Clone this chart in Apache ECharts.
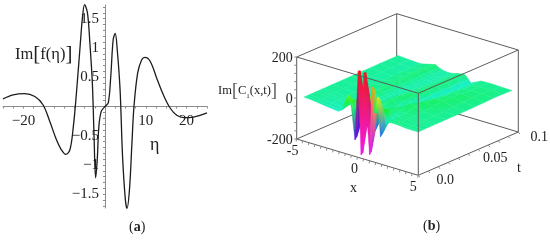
<!DOCTYPE html>
<html>
<head>
<meta charset="utf-8">
<script src="https://cdn.jsdelivr.net/npm/echarts@6/dist/echarts.min.js"></script>
<style>html,body{margin:0;padding:0;background:#fff}#c{width:550px;height:240px}</style>
</head>
<body>
<div id="c"></div>
<script>
// ---------- panel (a) data ----------
const curveEta = [-25,-22.5,-19.7,-17.2,-15.2,-13.5,-11.9,-10.7,-9.6,-8.6,-7.8,-7,-6.1,-5.5,-5,-4.3,-3.7,-3.1,-2.7,-2.3,-1.9,-1.5,-0.9,0,0.8,1.4,2,2.5,3,3.7,4.3,5,5.4,6,6.6,7.1,8,9,9.8,11.1,12.7,14.3,16,17.6,19.3,21.7,25];
const curveIm = [0.13,0.2,0.22,0.17,0.03,-0.26,-0.57,-0.74,-0.82,-0.74,-0.37,0.23,1.03,1.54,1.74,1.6,1.08,0.4,-0.46,-1.22,-0.91,-0.34,-0.08,0,0.06,0.5,1.14,1.25,0.97,0.28,-0.85,-1.6,-1.74,-1.42,-0.63,0,0.57,0.8,0.84,0.77,0.48,0.2,-0.03,-0.15,-0.19,-0.18,-0.11];
const etaLabelTicks = [-20,10,20];
const imLabelTicks = [-1.5,-1,-0.5,0.5,1,1.5];
const etaMinorTicks = [-25,-22.5,-20,-17.5,-15,-12.5,-10,-7.5,-5,-2.5,2.5,5,7.5,10,12.5,15,17.5,20,22.5,25];
const imMinorTicks = [-1.7,-1.6,-1.5,-1.4,-1.3,-1.2,-1.1,-1,-0.9,-0.8,-0.7,-0.6,-0.5,-0.4,-0.3,-0.2,-0.1,0.1,0.2,0.3,0.4,0.5,0.6,0.7,0.8,0.9,1,1.1,1.2,1.3,1.4,1.5,1.6,1.7];

// ---------- panel (b) data: Im C1(x,t), rows by t, columns by x ----------
const surfX = [-5,-4,-3,-2,-1.7,-1.4,-1.1,-0.85,-0.53,-0.25,0,0.25,0.75,0.95,1.2,1.45,1.7,2.3,3,4,5];
const surfT = [0,0.002,0.006,0.012,0.016,0.02,0.03,0.04,0.05,0.06,0.07,0.08,0.09,0.1];
const surfZ0   = [0,-5,-12,-18,-7,37,75,20,-133,207,-197,207,-184,151,30,111,-80,4,5,0,0];
const surfZ002 = [0,-4,-10,-16,-5,30,60,15,-120,205,-190,205,-170,140,25,100,-70,3,5,0,0];
const surfZ006 = [0,-3,-8,-12,0,22,40,10,-70,90,-80,85,-80,60,20,40,-35,3,4,1,0];
const surfZ012 = [0,-3,-6,-8,4,20,25,5,-30,35,-30,30,-35,25,15,20,-18,2,4,1,0];
const surfZ016 = [0,-2,-5,-5,8,18,15,0,-12,12,-12,10,-15,10,12,10,-10,3,3,1,0];
const surfZ020 = [0,-2,-4,-3,10,14,6,-2,-6,4,-4,6,-6,8,12,14,2,6,3,1,0];
const surfZ030 = [0,-2,-3,0,10,6,-2,-6,-6,2,12,14,-6,-14,-8,6,18,16,4,1,0];
const surfZ040 = [0,-2,-3,3,10,3,-4,-8,-6,0,6,14,6,-10,-16,-6,4,18,10,2,0];
const surfZ050 = [0,-3,-3,6,10,2,-6,-8,-8,-4,2,8,12,2,-10,-14,-4,10,16,4,0];
const surfZ060 = [0,-3,-4,7,10,0,-6,-8,-8,-6,0,4,13,8,-8,-18,-10,4,14,8,0];
const surfZ070 = [0,-3,-5,8,10,0,-5,-8,-8,-6,-2,2,10,10,-4,-20,-14,2,8,10,1];
const surfZ080 = [0,-4,-5,8,11,1,-5,-7,-8,-6,-3,1,9,9,-6,-22,-14,0,5,8,3];
const surfZ090 = [0,-4,-6,8,12,1,-4,-6,-8,-6,-3,2,8,7,-8,-24,-15,0,3,3,2];
const surfZ100 = [0,-4,-6,8,12,2,-4,-6,-8,-6,-3,2,8,4,-12,-25,-16,0,2,1,0];
const surfRows = [surfZ0,surfZ002,surfZ006,surfZ012,surfZ016,surfZ020,surfZ030,surfZ040,surfZ050,surfZ060,surfZ070,surfZ080,surfZ090,surfZ100];

const zTicks = [200,0,-200];
const xTicks = [-5,0,5];
const tTicks = [0,0.05,0.1];
const tTickText = ['0.0','0.05','0.1'];
const xMinor = [-5,-4.5,-4,-3.5,-3,-2.5,-2,-1.5,-1,-0.5,0,0.5,1,1.5,2,2.5,3,3.5,4,4.5,5];
const tMinor = [0,0.01,0.02,0.03,0.04,0.05,0.06,0.07,0.08,0.09,0.1];
const zMinor = [-200,-160,-120,-80,-40,0,40,80,120,160,200];

// ---------- view of the 3-D box ----------
const boxView = {ox:296.7, oy:98, xv:[12.16,3.63], tv:[1000,-433], zv:[0,-0.205]};
const surfView = {ox:304, oy:97, xv:[11.4,3.5], tv:[940,-415], zv:[0,-0.205]};
function proj(v,x,t,z){
  return [v.ox + (x+5)*v.xv[0] + t*v.tv[0] + z*v.zv[0],
          v.oy + (x+5)*v.xv[1] + t*v.tv[1] + z*v.zv[1]];
}
function hue(z){ const h = Math.max(0,Math.min(300,155-0.775*z)); return 'hsl('+h.toFixed(0)+',88%,52%)'; }

const quadData = [];
for(let r=surfT.length-2;r>=0;r--) for(let c=0;c<surfX.length-1;c++) quadData.push([r,c]);

function quadItem(p,api){
  const r=api.value(0), c=api.value(1);
  const idx=[[r,c],[r,c+1],[r+1,c+1],[r+1,c]];
  const pts=idx.map(a=>api.coord(proj(surfView,surfX[a[1]],surfT[a[0]],surfRows[a[0]][a[1]])));
  const zs=idx.map(a=>surfRows[a[0]][a[1]]);
  const hi=Math.max.apply(null,zs), lo=Math.min.apply(null,zs);
  const fill=new echarts.graphic.LinearGradient(0,0,0,1,[{offset:0,color:hue(hi)},{offset:1,color:hue(lo)}]);
  return {type:'polygon',shape:{points:pts},style:{fill:fill,stroke:fill,lineWidth:0.4}};
}

const c3 = (x,t,z)=>[x,t,z];
const edgesBack = [
  [c3(-5,0,-200),c3(-5,0.1,-200)],[c3(-5,0.1,-200),c3(5,0.1,-200)],[c3(-5,0.1,-200),c3(-5,0.1,200)],
  [c3(-5,0,200),c3(-5,0.1,200)],[c3(-5,0.1,200),c3(5,0.1,200)]
];
const edgesFront = [
  [c3(-5,0,200),c3(5,0,200)],[c3(5,0,200),c3(5,0.1,200)],[c3(5,0.1,200),c3(5,0.1,-200)],
  [c3(5,0,200),c3(5,0,-200)],[c3(-5,0,200),c3(-5,0,-200)],[c3(-5,0,-200),c3(5,0,-200)],[c3(5,0,-200),c3(5,0.1,-200)]
];
function edgeSeries(edges,z){
  return {type:'custom',coordinateSystem:'cartesian2d',xAxisIndex:1,yAxisIndex:1,z:z,silent:true,clip:false,
    data:edges.map((e,i)=>[i,0]),
    renderItem:(p,api)=>{
      const e=edges[api.value(0)], a=api.coord(proj(boxView,e[0][0],e[0][1],e[0][2])), b=api.coord(proj(boxView,e[1][0],e[1][1],e[1][2]));
      return {type:'line',shape:{x1:a[0],y1:a[1],x2:b[0],y2:b[1]},style:{stroke:'#5c5c5c',lineWidth:1}};
    }};
}
const tickSegs=[];
xMinor.forEach(x=>tickSegs.push([proj(boxView,x,0,-200),[-0.6,2.5]]));
tMinor.forEach(t=>tickSegs.push([proj(boxView,5,t,-200),[1.5,2]]));
zMinor.forEach(z=>tickSegs.push([proj(boxView,-5,0,z),[-2.5,0]]));
const tickSeries={type:'custom',coordinateSystem:'cartesian2d',xAxisIndex:1,yAxisIndex:1,z:5,silent:true,clip:false,
  data:tickSegs.map((e,i)=>[i,0]),
  renderItem:(p,api)=>{
    const s=tickSegs[api.value(0)], a=api.coord(s[0]);
    return {type:'line',shape:{x1:a[0],y1:a[1],x2:a[0]+s[1][0],y2:a[1]+s[1][1]},style:{stroke:'#8a8a8a',lineWidth:1}};
  }};

const serif='"Liberation Serif","Times New Roman",serif';
const txtCol='#222';
const boxLabels=[];
zTicks.forEach(z=>{const q=proj(boxView,-5,0,z);boxLabels.push({q:[q[0]-4,q[1]+1],s:String(z),al:'right'});});
const xDx=[-4,-3,-5];
xTicks.forEach((x,i)=>{const q=proj(boxView,x,0,-200);boxLabels.push({q:[q[0]+xDx[i],q[1]+12],s:String(x),al:'center'});});
const tDx=[27,27,21];
tTicks.forEach((t,i)=>{const q=proj(boxView,5,t,-200);boxLabels.push({q:[q[0]+tDx[i],q[1]+5],s:tTickText[i],al:'center'});});
const labelSeries={type:'custom',coordinateSystem:'cartesian2d',xAxisIndex:1,yAxisIndex:1,z:6,silent:true,clip:false,
  data:boxLabels.map((e,i)=>[i,0]),
  renderItem:(p,api)=>{
    const l=boxLabels[api.value(0)], a=api.coord(l.q);
    return {type:'text',x:a[0],y:a[1],style:{text:l.s,font:'14px '+serif,fill:txtCol,textAlign:l.al,textVerticalAlign:'middle'}};
  }};

const fmt=v=>(v<0?'\u2212'+Math.abs(v):String(v));
const axisLabelsA=[].concat(
  etaLabelTicks.map(v=>({v:[v,0],s:fmt(v),al:'center',dx:0,dy:15})),
  imLabelTicks.map(v=>({v:[0,v],s:fmt(v),al:'right',dx:-6,dy:0}))
);
const axisLabelSeries={type:'custom',coordinateSystem:'cartesian2d',xAxisIndex:0,yAxisIndex:0,z:1,silent:true,clip:false,
  data:axisLabelsA.map((e,i)=>[i,0]),
  renderItem:(p,api)=>{
    const l=axisLabelsA[api.value(0)], a=api.coord(l.v);
    return {type:'text',x:a[0]+l.dx,y:a[1]+l.dy,style:{text:l.s,font:'15px '+serif,fill:txtCol,textAlign:l.al,textVerticalAlign:'middle'}};
  }};

const option={
  animation:false,
  backgroundColor:'#fff',
  grid:[
    {left:3,top:5,width:204,height:203,outerBoundsMode:'none'},
    {left:0,top:0,width:550,height:240,outerBoundsMode:'none'}
  ],
  xAxis:[
    {type:'value',gridIndex:0,min:-25,max:25,splitLine:{show:false},
     axisLine:{onZero:true,lineStyle:{color:'#8c8c8c',width:1}},
     axisTick:{show:true,length:2,customValues:etaMinorTicks,lineStyle:{color:'#8c8c8c'}},
     axisLabel:{show:false}},
    {type:'value',gridIndex:1,min:0,max:550,show:false}
  ],
  yAxis:[
    {type:'value',gridIndex:0,min:-1.735,max:1.735,splitLine:{show:false},
     axisLine:{onZero:true,lineStyle:{color:'#8c8c8c',width:1}},
     axisTick:{show:true,length:2,customValues:imMinorTicks,lineStyle:{color:'#8c8c8c'}},
     axisLabel:{show:false}},
    {type:'value',gridIndex:1,min:0,max:240,inverse:true,show:false}
  ],
  series:[
    axisLabelSeries,
    {type:'line',xAxisIndex:0,yAxisIndex:0,data:curveEta.map((e,i)=>[e,curveIm[i]]),smooth:0.35,showSymbol:false,clip:false,
     lineStyle:{color:'#1c1c1c',width:1.3},z:3},
    edgeSeries(edgesBack,1),
    {type:'custom',coordinateSystem:'cartesian2d',xAxisIndex:1,yAxisIndex:1,z:2,silent:true,clip:false,data:quadData,renderItem:quadItem},
    edgeSeries(edgesFront,4),
    tickSeries,
    labelSeries
  ],
  graphic:[
    {type:'text',left:15,top:44,z:10,style:{rich:{
       m:{font:'16.5px '+serif,fill:txtCol,verticalAlign:'middle'},
       k:{font:'21px '+serif,fill:txtCol,verticalAlign:'middle'}},
       text:'{m|Im}{k|[}{m|f(\u03b7)}{k|]}'}},
    {type:'text',left:150,top:136,z:10,style:{text:'\u03b7',font:'18px '+serif,fill:txtCol}},
    {type:'text',left:129,top:220,z:10,style:{rich:{p:{font:'14px '+serif,fill:txtCol},b:{font:'bold 14px '+serif,fill:txtCol}},text:'{p|(}{b|a}{p|)}'}},
    {type:'text',left:423,top:219,z:10,style:{rich:{p:{font:'14px '+serif,fill:txtCol},b:{font:'bold 14px '+serif,fill:txtCol}},text:'{p|(}{b|b}{p|)}'}},
    {type:'text',left:218,top:82,z:10,style:{rich:{
       m:{font:'12.5px '+serif,fill:txtCol,verticalAlign:'middle'},
       k:{font:'18px '+serif,fill:'#555',verticalAlign:'middle'},
       s:{font:'7px '+serif,fill:txtCol,verticalAlign:'bottom'}},
       text:'{m|Im}{k|[}{m|C}{s|1}{m|(x,t)}{k|]}'}},
    {type:'text',left:350,top:181,z:10,style:{text:'x',font:'14px '+serif,fill:txtCol}},
    {type:'text',left:517,top:161,z:10,style:{text:'t',font:'14px '+serif,fill:txtCol}}
  ]
};
const chart=echarts.init(document.getElementById('c'),null,{renderer:'canvas'});
chart.setOption(option);
</script>
</body>
</html>
